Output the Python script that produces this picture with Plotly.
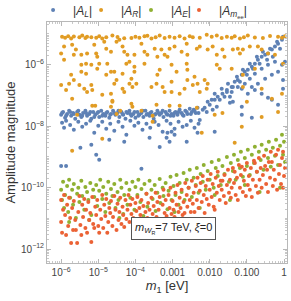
import plotly.graph_objects as go

# ---------------- data ----------------
m1_R = [1.06e-6, 1.28e-6, 1.55e-6, 1.86e-6, 3.1e-6, 3.7e-6, 4.5e-6, 5.0e-6, 8.8e-6, 1.06e-5, 1.28e-5, 1.64e-5, 2.4e-5,
        7.8e-5, 1.0e-4, 1.28e-4, 1.75e-4, 2.7e-4, 3.5e-4, 4.5e-4, 6.1e-4, 8.3e-4, 1.13e-3, 1.55e-3, 2.1e-3, 3.5e-3,
        8.3e-3, 1.55e-2, 2.1e-2, 2.9e-2, 3.9e-2, 4.7e-2, 6.5e-2, 8.3e-2, 0.106, 0.27, 0.69, 0.88, 1.06,
        2.2e-6, 6.5e-6, 3.3e-5, 5.0e-5, 2.1e-4, 2.9e-3, 5.4e-3, 1.13e-2, 0.164, 0.42,
        1.2e-6, 1.0e-6, 1.2e-6, 1.98e-6, 2.5e-6, 2.2e-6, 3.5e-6, 5.0e-6, 3.5e-6, 4.7e-6, 7.8e-6, 8.8e-6, 9.4e-6,
        6.5e-6, 4.7e-6, 3.5e-6, 1.86e-6, 1.64e-6, 1.0e-6, 1.36e-6, 2.2e-6, 3.1e-6, 4.2e-6, 6.5e-6, 6.9e-6, 5.0e-6,
        1.98e-6, 1.45e-5, 1.64e-5, 2.2e-5, 1.75e-5, 1.06e-5, 9.4e-6, 1.64e-5, 2.2e-5, 2.7e-5, 3.1e-5, 2.7e-5,
        2.2e-5, 5.0e-5, 4.5e-5, 1.28e-5, 2.4e-5, 4.5e-5, 5.0e-5, 6.1e-5, 9.4e-5, 3.1e-5, 3.7e-5, 5.7e-5, 6.9e-5,
        9.4e-5, 4.5e-5, 7.8e-5, 6.9e-5, 1.06e-4, 8.3e-5, 9.4e-5, 1.45e-4, 1.75e-4, 2.1e-4, 3.3e-4, 5.0e-4,
        6.1e-4, 3.9e-4, 1.75e-4, 4.5e-4, 3.9e-4, 3.7e-4, 2.7e-4, 5.4e-4, 6.1e-4, 8.3e-4, 1.13e-3, 1.75e-3,
        7.3e-4, 2.4e-3, 2.5e-3, 4.5e-3, 5.4e-3, 8.8e-3, 1.2e-2, 1.55e-2, 2.2e-2, 2.5e-2, 4.2e-2, 5.7e-2, 6.5e-2,
        7.8e-2, 0.12, 0.198, 0.25, 0.37, 0.57, 0.94, 9.4e-4, 2.4e-3, 2.5e-3, 1.28e-3, 3.9e-3, 2.5e-3, 9.4e-4,
        3.5e-3, 4.7e-3, 7.3e-3, 8.8e-3, 1.55e-2, 1.86e-2, 3.9e-2, 7.8e-2, 0.164, 1.55e-3, 9.4e-4, 5.4e-3,
        2.1e-3, 8.3e-3, 0.88, 0.47, 7.8e-2, 0.25,
        1.98e-6, 1.28e-5, 2.7e-6, 6.9e-6, 8.3e-6, 2.4e-5, 2.2e-5, 3.1e-5, 3.9e-5, 7.8e-5, 8.3e-5, 1.45e-4,
        2.9e-4, 2.9e-4, 3.7e-4, 8.3e-4, 1.55e-3, 4.5e-3, 6.1e-3, 1.36e-2, 2.2e-2, 4.7e-2, 7.3e-2, 0.25, 0.69, 0.1]
A_R = [8.1e-6, 7.6e-6, 8.5e-6, 7.1e-6, 7.9e-6, 8.9e-6, 7.4e-6, 8.1e-6, 7.6e-6, 8.5e-6, 7.1e-6, 7.9e-6, 8.9e-6,
       7.4e-6, 8.1e-6, 7.6e-6, 8.5e-6, 7.1e-6, 7.9e-6, 8.9e-6, 7.4e-6, 8.1e-6, 7.6e-6, 8.5e-6, 7.1e-6, 7.9e-6,
       9.5e-6, 8.9e-6, 7.4e-6, 8.1e-6, 7.6e-6, 8.5e-6, 7.1e-6, 7.9e-6, 8.9e-6, 7.4e-6, 8.1e-6, 7.6e-6, 8.5e-6,
       8.3e-6, 7.8e-6, 8.0e-6, 7.3e-6, 8.7e-6, 8.4e-6, 7.5e-6, 8.2e-6, 7.7e-6, 8.6e-6,
       3.9e-6, 2.3e-6, 1.45e-6, 4.5e-6, 3.1e-6, 2.1e-6, 2.1e-6, 2.3e-6, 1.0e-6, 1.07e-6, 4.5e-6, 2.3e-6, 1.83e-6,
       1.0e-6, 5.1e-7, 5.9e-7, 4.7e-7, 2.4e-7, 2.2e-7, 1.5e-7, 3.2e-7, 2.2e-7, 1.65e-7, 2.2e-7, 1.5e-7, 1.3e-7,
       7.8e-8, 5.6e-6, 3.3e-6, 2.65e-6, 1.07e-6, 1.07e-6, 7.4e-7, 4.7e-7, 5.9e-7, 5.9e-7, 3.2e-7, 2.4e-7,
       1.13e-7, 1.3e-7, 1.65e-7, 1.05e-7, 6.7e-8, 3.9e-6, 2.65e-6, 2.1e-6, 2.1e-6, 5.6e-6, 6.5e-6, 1.07e-6, 1.25e-6,
       8.6e-7, 5.1e-7, 3.5e-7, 2.4e-7, 2.4e-7, 1.9e-7, 5.9e-7, 4.8e-6, 2.65e-6, 2.1e-6, 3.3e-6, 3.1e-6,
       2.1e-6, 1.83e-6, 1.07e-6, 6.9e-7, 4.7e-7, 2.4e-7, 1.9e-7, 1.9e-7, 1.3e-7, 3.3e-6, 3.9e-6, 2.65e-6,
       1.83e-6, 4.8e-6, 2.1e-6, 3.3e-6, 3.9e-6, 3.1e-6, 3.9e-6, 2.1e-6, 3.1e-6, 1.83e-6, 3.1e-6, 3.3e-6, 2.3e-6,
       3.1e-6, 3.9e-6, 3.9e-6, 3.1e-6, 2.3e-6, 2.1e-6, 1.07e-6, 1.0e-6, 1.07e-6, 6.9e-7, 5.9e-7, 4.1e-7, 3.2e-7, 2.8e-7,
       2.2e-7, 2.4e-7, 3.2e-7, 2.4e-7, 1.0e-6, 7.4e-7, 7.4e-7, 4.7e-7, 7.4e-7, 1.13e-7, 1.3e-7, 1.3e-7,
       1.65e-7, 1.65e-7, 1.13e-7, 7.8e-8, 1.9e-7, 1.65e-7,
       1.58e-9, 3.9e-9, 2.35e-8, 4.6e-8, 4.6e-8, 6.2e-8, 4.3e-8, 2.5e-8, 3.2e-8, 5.4e-8, 4.3e-8, 3.2e-8,
       2.2e-8, 1.4e-8, 5.0e-8, 4.6e-8, 4.6e-8, 4.0e-8, 6.1e-9, 2.35e-8, 2.7e-8, 2.9e-9, 9.6e-9, 2.0e-8, 2.9e-8, 6.2e-8]

m1_L = [1.0e-6, 1.13e-6, 1.28e-6, 1.45e-6, 1.64e-6, 1.86e-6, 2.1e-6, 2.4e-6, 2.7e-6, 3.1e-6, 3.5e-6, 3.9e-6, 4.5e-6,
        5.0e-6, 5.7e-6, 6.5e-6, 7.3e-6, 8.3e-6, 9.4e-6, 1.06e-5, 1.2e-5, 1.36e-5, 1.55e-5, 1.75e-5, 1.98e-5, 2.2e-5,
        2.5e-5, 2.9e-5, 3.3e-5, 3.7e-5, 4.2e-5, 4.7e-5, 5.4e-5, 6.1e-5, 6.9e-5, 7.8e-5, 8.8e-5, 1.0e-4, 1.13e-4,
        1.28e-4, 1.45e-4, 1.64e-4, 1.86e-4, 2.1e-4, 2.4e-4, 2.7e-4, 3.1e-4, 3.5e-4, 3.9e-4, 4.5e-4, 5.0e-4, 5.7e-4,
        6.5e-4, 7.3e-4, 8.3e-4, 9.4e-4, 1.06e-3, 1.2e-3, 1.36e-3, 1.55e-3, 1.75e-3, 1.98e-3, 2.2e-3, 2.5e-3, 2.9e-3,
        3.3e-3, 3.7e-3, 4.2e-3, 4.7e-3,
        1.06e-6, 1.36e-6, 1.75e-6, 2.2e-6, 2.9e-6, 3.7e-6, 4.7e-6, 6.1e-6, 7.8e-6, 1.0e-5, 1.28e-5, 1.64e-5, 2.1e-5,
        2.7e-5, 3.5e-5, 4.5e-5, 5.7e-5, 7.3e-5, 9.4e-5, 1.2e-4, 1.55e-4, 1.98e-4, 2.5e-4, 3.3e-4, 4.2e-4, 5.4e-4,
        6.9e-4, 8.8e-4, 1.13e-3, 1.45e-3, 1.86e-3, 2.4e-3, 3.1e-3, 3.9e-3, 5.0e-3,
        1.06e-6, 1.36e-6, 1.75e-6, 2.2e-6, 2.9e-6, 3.7e-6, 4.7e-6, 6.1e-6, 7.8e-6, 1.0e-5, 1.28e-5, 1.64e-5, 2.1e-5,
        2.7e-5, 3.5e-5, 4.5e-5, 5.7e-5, 7.3e-5, 9.4e-5, 1.2e-4, 1.55e-4, 1.98e-4, 2.5e-4, 3.3e-4, 4.2e-4, 5.4e-4,
        6.9e-4, 8.8e-4, 1.13e-3, 1.45e-3, 1.86e-3, 2.4e-3, 3.1e-3, 3.9e-3, 5.0e-3,
        1.2e-6, 3.3e-6, 6.5e-6, 8.8e-6, 1.06e-5, 1.0e-6, 1.36e-6, 1.45e-4, 1.98e-5, 5.0e-5, 2.4e-4, 4.5e-4, 7.3e-4,
        9.4e-4, 6.9e-4, 8.3e-4, 1.13e-3, 2.4e-3, 4.7e-3, 1.36e-2,
        5.4e-3, 7.3e-3, 8.8e-3, 1.13e-2, 1.36e-2, 1.64e-2, 1.86e-2, 2.2e-2, 2.5e-2, 2.9e-2, 3.5e-2, 3.5e-2, 4.2e-2,
        3.9e-2, 3.9e-2, 4.7e-2, 5.7e-2, 5.7e-2, 7.3e-2, 7.3e-2, 7.3e-2, 7.3e-2, 8.8e-2, 8.8e-2, 0.106, 0.106, 0.12,
        0.136, 0.136, 0.136, 0.164, 0.164, 0.164, 0.198, 0.198, 0.25, 0.25, 0.25, 0.31, 0.31, 0.37, 0.37, 0.37,
        0.47, 0.47, 0.47, 0.57, 0.57, 0.69, 0.69, 0.69, 0.88, 0.88, 0.94, 1.06, 0.94, 0.94,
        1.36e-2, 2.1e-2, 3.1e-2, 5.4e-2, 7.8e-2, 0.12, 0.186, 0.27, 0.42, 0.65, 0.78, 0.5, 0.35, 0.22, 0.145, 0.1,
        6.5e-2, 4.2e-2, 2.9e-2, 6.5e-3, 8.3e-3, 1.0e-2, 1.2e-2, 1.55e-2]
A_L = [2.35e-8, 2.9e-8, 1.9e-8, 2.5e-8, 3.2e-8, 2.2e-8, 2.7e-8, 1.75e-8, 2.9e-8, 2.35e-8, 2.0e-8, 2.7e-8, 3.2e-8,
       2.2e-8, 2.5e-8, 1.75e-8, 2.9e-8, 2.35e-8, 2.7e-8, 2.0e-8, 3.2e-8, 2.5e-8, 2.2e-8, 2.9e-8, 1.9e-8, 2.5e-8,
       3.2e-8, 2.35e-8, 2.7e-8, 2.0e-8, 2.9e-8, 2.35e-8, 1.75e-8, 2.7e-8, 3.2e-8, 2.2e-8, 2.5e-8, 1.9e-8, 2.9e-8,
       2.35e-8, 2.7e-8, 2.0e-8, 3.2e-8, 2.5e-8, 2.2e-8, 2.9e-8, 1.75e-8, 2.5e-8, 3.2e-8, 2.35e-8, 2.7e-8, 2.0e-8,
       2.9e-8, 2.35e-8, 3.2e-8, 2.5e-8, 2.2e-8, 2.9e-8, 2.35e-8, 3.4e-8, 2.7e-8, 2.2e-8, 3.2e-8, 2.5e-8, 3.7e-8,
       2.9e-8, 3.4e-8, 2.7e-8, 4.0e-8,
       2.7e-8, 2.2e-8, 2.9e-8, 2.5e-8, 3.2e-8, 2.2e-8, 2.7e-8, 2.9e-8, 2.0e-8, 2.9e-8, 2.2e-8, 2.7e-8, 2.35e-8,
       2.7e-8, 3.2e-8, 2.5e-8, 2.9e-8, 2.5e-8, 2.9e-8, 2.2e-8, 3.2e-8, 2.35e-8, 2.7e-8, 2.35e-8, 2.7e-8, 3.2e-8,
       2.5e-8, 2.2e-8, 2.7e-8, 2.9e-8, 2.35e-8, 2.9e-8, 2.5e-8, 3.2e-8, 2.7e-8,
       1.3e-8, 1.5e-8, 1.1e-8, 7.6e-9, 1.4e-8, 9.6e-9, 1.2e-8, 1.5e-8, 6.1e-9, 1.03e-8, 1.4e-8, 8.2e-9, 1.2e-8,
       7.1e-9, 1.4e-8, 9.6e-9, 5.3e-9, 1.5e-8, 1.03e-8, 1.3e-8, 7.6e-9, 1.2e-8, 8.9e-9, 1.4e-8, 1.1e-8, 6.6e-9,
       1.5e-8, 1.2e-8, 8.2e-9, 1.4e-8, 9.6e-9, 1.1e-8, 1.5e-8, 8.9e-9, 1.2e-8,
       8.9e-9, 2.0e-9, 2.5e-9, 1.17e-9, 8.1e-10, 5.1e-10, 5.1e-10, 4.1e-10, 3.6e-9, 3.1e-9, 4.2e-9, 2.1e-9, 6.1e-9,
       6.6e-9, 4.2e-9, 3.1e-9, 5.3e-9, 3.1e-9, 6.1e-9, 6.6e-9,
       1.6e-8, 4.0e-8, 6.2e-8, 7.2e-8, 7.2e-8, 9.1e-8, 7.2e-8, 1.13e-7, 9.1e-8, 1.5e-7, 9.1e-8, 5.8e-8, 6.2e-8,
       1.9e-7, 1.3e-7, 2.8e-7, 3.2e-7, 1.9e-7, 4.7e-7, 1.65e-7, 4.3e-8, 2.35e-8, 5.9e-7, 2.4e-7, 6.9e-7, 1.13e-7, 3.5e-7,
       8.6e-7, 1.9e-7, 1.9e-8, 1.07e-6, 5.1e-7, 1.5e-7, 1.45e-6, 2.4e-7, 1.83e-6, 7.4e-7, 1.13e-7, 2.1e-6, 3.5e-7,
       2.3e-6, 1.0e-6, 8.4e-8, 3.1e-6, 4.7e-7, 7.2e-8, 3.9e-6, 1.25e-6, 4.8e-6, 5.9e-7, 5.0e-8, 6.5e-6, 1.0e-6,
       8.2e-6, 1.25e-6, 3.2e-7, 1.65e-7,
       1.13e-7, 1.65e-7, 2.4e-7, 4.1e-7, 6.9e-7, 1.07e-6, 1.83e-6, 2.65e-6, 3.3e-6, 5.6e-6, 3.3e-6, 1.83e-6, 1.45e-6,
       1.07e-6, 7.4e-7, 4.7e-7, 2.8e-7, 1.9e-7, 1.3e-7, 3.4e-8, 2.9e-8, 5.0e-8, 3.4e-8, 4.3e-8]

m1_E = [1.0e-6, 1.06e-6, 1.13e-6, 1.2e-6, 1.28e-6, 1.45e-6, 1.55e-6, 1.64e-6, 1.75e-6, 1.98e-6, 2.1e-6, 2.2e-6,
        2.5e-6, 2.7e-6, 2.9e-6, 3.1e-6, 3.5e-6, 3.7e-6, 4.2e-6, 4.5e-6, 5.0e-6, 5.4e-6, 6.1e-6, 6.5e-6, 7.3e-6,
        7.8e-6, 8.8e-6, 9.4e-6, 1.06e-5, 1.13e-5, 1.28e-5, 1.36e-5, 1.55e-5, 1.64e-5, 1.86e-5, 1.98e-5, 2.2e-5,
        2.4e-5, 2.7e-5, 2.9e-5, 3.3e-5, 3.5e-5, 3.9e-5, 4.2e-5, 4.7e-5, 5.0e-5, 5.7e-5, 6.1e-5, 6.9e-5, 7.3e-5,
        8.3e-5, 9.4e-5, 1.0e-4, 1.13e-4, 1.2e-4, 1.36e-4, 1.45e-4, 1.64e-4, 1.75e-4, 1.98e-4, 2.1e-4, 2.4e-4,
        2.7e-4, 2.9e-4, 3.3e-4, 3.5e-4, 3.9e-4, 4.5e-4, 4.7e-4, 5.4e-4, 5.7e-4, 6.5e-4, 7.3e-4, 7.8e-4, 8.8e-4,
        9.4e-4, 1.06e-3, 1.2e-3, 1.28e-3, 1.45e-3, 1.55e-3, 1.75e-3, 1.98e-3, 2.1e-3, 2.4e-3, 2.7e-3, 2.9e-3,
        3.3e-3, 3.7e-3, 4.2e-3, 4.5e-3, 5.0e-3, 5.7e-3, 6.5e-3, 6.9e-3, 7.8e-3, 8.8e-3, 1.0e-2, 1.13e-2, 1.28e-2,
        1.45e-2, 1.64e-2, 1.75e-2, 1.98e-2, 2.2e-2, 2.5e-2, 2.9e-2, 3.3e-2, 3.7e-2, 4.2e-2, 4.5e-2, 5.0e-2,
        5.7e-2, 6.5e-2, 6.9e-2, 7.8e-2, 8.8e-2, 0.1, 0.106, 0.12, 0.136, 0.155, 0.164, 0.186, 0.21, 0.235, 0.25,
        0.28, 0.33, 0.37, 0.39, 0.44, 0.5, 0.57, 0.61, 0.69, 0.78, 0.88, 0.94, 1.0, 1.06,
        1.64e-6, 5.7e-6, 3.7e-5, 2.4e-4, 1.13e-3, 5.4e-3, 3.5e-2, 0.22, 0.78, 8.8e-2, 1.36e-2]
A_E = [8.5e-11, 4.0e-11, 1.55e-10, 2.2e-11, 5.8e-11, 1.14e-10, 1.63e-11, 1.8e-10, 4.7e-11, 8.5e-11, 2.8e-11,
       1.33e-10, 1.04e-11, 6.3e-11, 9.9e-11, 3.45e-11, 1.67e-10, 5.4e-11, 1.9e-11, 1.06e-10, 7.3e-11, 4.0e-11,
       1.43e-10, 1.3e-11, 8.5e-11, 5.0e-11, 1.23e-10, 2.56e-11, 7.9e-11, 1.8e-10, 4.3e-11, 1.06e-10, 1.63e-11,
       6.3e-11, 1.55e-10, 3.2e-11, 9.1e-11, 5.4e-11, 1.33e-10, 2.2e-11, 7.3e-11, 4.0e-11, 1.8e-10, 9.9e-11,
       1.4e-11, 5.8e-11, 1.43e-10, 2.8e-11, 8.5e-11, 4.7e-11, 1.55e-10, 1.9e-11, 1.06e-10, 5.8e-11, 1.8e-10,
       3.45e-11, 9.1e-11, 1.21e-11, 1.33e-10, 6.3e-11, 2.4e-11, 1.67e-10, 8.5e-11, 4.3e-11, 1.23e-10, 1.76e-11,
       6.8e-11, 1.93e-10, 3.2e-11, 9.9e-11, 5.4e-11, 1.43e-10, 2.0e-11, 7.9e-11, 2.25e-10, 4.0e-11, 1.14e-10,
       5.8e-11, 2.6e-10, 2.8e-11, 1.43e-10, 7.3e-11, 3.0e-10, 4.0e-11, 1.8e-10, 9.9e-11, 3.8e-10, 5.0e-11,
       2.1e-10, 1.23e-10, 4.4e-10, 6.8e-11, 2.8e-10, 1.55e-10, 5.5e-10, 8.5e-11, 3.5e-10, 1.8e-10, 6.9e-10,
       9.9e-11, 4.4e-10, 2.4e-10, 8.0e-10, 1.23e-10, 5.1e-10, 2.8e-10, 1.0e-9, 1.55e-10, 6.4e-10, 3.5e-10,
       1.17e-9, 1.8e-10, 8.0e-10, 4.4e-10, 1.47e-9, 2.25e-10, 9.3e-10, 5.1e-10, 1.7e-9, 2.6e-10, 1.17e-9,
       6.4e-10, 2.13e-9, 3.3e-10, 1.47e-9, 8.0e-10, 2.5e-9, 3.8e-10, 1.7e-9, 9.3e-10, 3.1e-9, 4.8e-10, 2.0e-9,
       1.09e-9, 3.6e-9, 5.5e-10, 2.3e-9, 5.25e-9, 1.17e-9, 3.1e-9, 6.9e-10,
       7.7e-12, 8.9e-12, 1.04e-11, 8.9e-12, 1.63e-11, 2.2e-11, 4.0e-11, 7.3e-11, 9.9e-11, 1.23e-10, 5.8e-11]

m1_mee = [1.0e-6, 1.0e-6, 1.06e-6, 1.13e-6, 1.2e-6, 1.28e-6, 1.36e-6, 1.45e-6, 1.55e-6, 1.64e-6, 1.75e-6, 1.86e-6,
          1.98e-6, 2.1e-6, 2.2e-6, 2.4e-6, 2.5e-6, 2.7e-6, 2.9e-6, 3.1e-6, 3.3e-6, 3.5e-6, 3.7e-6, 3.9e-6, 4.2e-6,
          4.5e-6, 4.7e-6, 5.0e-6, 5.4e-6, 5.7e-6, 6.1e-6, 6.5e-6, 6.9e-6, 7.3e-6, 7.8e-6, 8.3e-6, 8.8e-6, 9.4e-6,
          1.0e-5, 1.06e-5, 1.13e-5, 1.2e-5, 1.28e-5, 1.36e-5, 1.45e-5, 1.55e-5, 1.64e-5, 1.75e-5, 1.86e-5, 1.98e-5,
          2.1e-5, 2.2e-5, 2.4e-5, 2.5e-5, 2.7e-5, 2.9e-5, 3.1e-5, 3.3e-5, 3.5e-5, 3.7e-5, 3.9e-5, 4.2e-5, 4.5e-5,
          4.7e-5, 5.0e-5, 5.4e-5, 5.7e-5, 6.1e-5, 6.5e-5, 6.9e-5, 7.3e-5, 7.8e-5, 8.3e-5, 8.8e-5, 9.4e-5, 1.0e-4,
          1.06e-4, 1.13e-4, 1.2e-4, 1.28e-4, 1.36e-4, 1.45e-4, 1.55e-4, 1.64e-4, 1.75e-4, 1.86e-4, 1.98e-4, 2.1e-4,
          2.2e-4, 2.4e-4, 2.5e-4, 2.7e-4, 2.9e-4, 3.1e-4, 3.3e-4, 3.5e-4, 3.7e-4, 3.9e-4, 4.2e-4, 4.5e-4, 4.7e-4,
          5.0e-4, 5.4e-4, 5.7e-4, 6.1e-4, 6.5e-4, 6.9e-4, 7.3e-4, 7.8e-4, 8.3e-4, 8.8e-4, 9.4e-4, 1.0e-3, 1.06e-3,
          1.13e-3, 1.2e-3, 1.28e-3, 1.36e-3, 1.45e-3, 1.55e-3, 1.64e-3, 1.75e-3, 1.86e-3, 1.98e-3, 2.1e-3, 2.2e-3,
          2.4e-3, 2.5e-3, 2.7e-3, 2.9e-3, 3.1e-3, 3.3e-3, 3.5e-3, 3.7e-3, 3.9e-3, 4.2e-3, 4.5e-3, 4.7e-3, 5.0e-3,
          5.4e-3, 5.7e-3, 6.1e-3, 6.5e-3, 6.9e-3, 7.3e-3, 7.8e-3, 8.3e-3, 8.8e-3, 9.4e-3, 1.0e-2, 1.06e-2, 1.13e-2,
          1.2e-2, 1.28e-2, 1.36e-2, 1.45e-2, 1.55e-2, 1.64e-2, 1.75e-2, 1.86e-2, 1.98e-2, 2.1e-2, 2.2e-2, 2.4e-2,
          2.5e-2, 2.7e-2, 2.9e-2, 3.1e-2, 3.3e-2, 3.5e-2, 3.7e-2, 3.9e-2, 4.2e-2, 4.5e-2, 4.7e-2, 5.0e-2, 5.4e-2,
          5.7e-2, 6.1e-2, 6.5e-2, 6.9e-2, 7.3e-2, 7.8e-2, 8.3e-2, 8.8e-2, 9.4e-2, 0.1, 0.106, 0.113, 0.12, 0.128,
          0.136, 0.145, 0.155, 0.164, 0.175, 0.186, 0.198, 0.21, 0.22, 0.235, 0.25, 0.27, 0.29, 0.31, 0.33, 0.35,
          0.37, 0.39, 0.42, 0.44, 0.47, 0.5, 0.53, 0.57, 0.61, 0.65, 0.69, 0.73, 0.78, 0.83, 0.88, 0.94, 1.0, 1.06,
          0.94]
A_mee = [4.0e-11, 7.7e-12, 3.4e-12, 1.9e-11, 5.8e-11, 1.3e-11, 2.9e-12, 2.8e-11, 5.7e-12, 4.7e-11, 1.04e-11,
         1.6e-12, 2.2e-11, 4.2e-12, 3.7e-11, 8.9e-12, 4.2e-12, 1.6e-12, 1.63e-11, 5.4e-11, 6.1e-12, 2.9e-12,
         2.8e-11, 1.12e-11, 4.3e-11, 4.9e-12, 1.9e-11, 3.4e-12, 3.45e-11, 8.9e-12, 1.51e-11, 1.72e-12, 5.0e-11,
         6.6e-12, 4.9e-12, 2.4e-11, 1.3e-11, 4.0e-11, 5.7e-12, 3.4e-12, 1.9e-11, 9.6e-12, 5.8e-11, 4.9e-12,
         2.8e-11, 1.21e-11, 4.3e-11, 3.4e-12, 7.7e-12, 2.2e-11, 1.51e-11, 3.7e-11, 5.7e-12, 1.12e-11, 5.4e-11,
         1.9e-11, 4.2e-12, 3.0e-11, 8.9e-12, 1.63e-11, 4.7e-11, 6.6e-12, 2.4e-11, 1.3e-11, 5.3e-12, 4.0e-11,
         9.6e-12, 1.9e-11, 5.8e-11, 7.7e-12, 2.8e-11, 1.4e-11, 4.3e-11, 1.04e-11, 6.1e-12, 3.2e-11, 1.76e-11,
         5.0e-11, 8.3e-12, 2.2e-11, 1.3e-11, 4.0e-11, 6.6e-12, 2.56e-11, 4.9e-12, 1.63e-11, 6.3e-11, 1.04e-11,
         3.2e-11, 1.9e-11, 7.7e-12, 4.7e-11, 1.4e-11, 2.56e-11, 7.7e-12, 6.8e-11, 1.12e-11, 3.45e-11, 1.9e-11,
         5.0e-11, 9.6e-12, 7.1e-12, 2.8e-11, 8.5e-11, 1.51e-11, 4.0e-11, 1.21e-11, 7.7e-12, 5.8e-11, 2.2e-11,
         9.9e-11, 1.4e-11, 3.7e-11, 1.9e-11, 1.12e-11, 6.8e-11, 2.8e-11, 1.23e-10, 1.63e-11, 4.7e-11, 2.2e-11,
         8.5e-11, 1.3e-11, 3.45e-11, 1.51e-11, 1.43e-10, 5.8e-11, 2.4e-11, 9.9e-11, 4.0e-11, 1.63e-11, 1.67e-10,
         3.0e-11, 6.8e-11, 1.63e-11, 1.14e-10, 4.0e-11, 2.1e-10, 2.2e-11, 7.9e-11, 1.43e-10, 3.45e-11, 2.4e-10,
         5.8e-11, 1.51e-11, 1.14e-10, 4.3e-11, 1.8e-10, 2.8e-11, 8.5e-11, 2.8e-10, 5.0e-11, 1.33e-10, 2.4e-11,
         1.9e-11, 2.1e-10, 6.8e-11, 3.3e-10, 1.14e-10, 4.0e-11, 1.67e-10, 8.5e-11, 1.67e-10, 5.4e-11, 2.6e-10,
         3.2e-11, 1.23e-10, 3.8e-10, 6.8e-11, 1.8e-10, 4.7e-11, 9.9e-11, 4.4e-10, 1.43e-10, 3.3e-10, 5.8e-11,
         2.1e-10, 4.0e-11, 5.5e-10, 9.9e-11, 2.6e-10, 4.8e-10, 7.3e-11, 1.67e-10, 3.8e-10, 5.4e-11, 6.4e-10,
         1.23e-10, 2.4e-10, 8.5e-11, 4.4e-10, 5.0e-11, 1.8e-10, 7.5e-10, 6.4e-10, 1.14e-10, 3.3e-10, 6.8e-11,
         9.3e-10, 1.8e-10, 4.4e-10, 9.9e-11, 2.6e-10, 1.09e-9, 5.1e-10, 1.33e-10, 3.8e-10, 7.3e-11, 6.9e-10,
         2.1e-10, 1.47e-9, 6.9e-10, 1.14e-10, 3.8e-10, 1.8e-10, 1.17e-9, 8.5e-11, 1.7e-9, 2.8e-10, 5.5e-10,
         1.33e-10, 9.3e-10, 1.47e-9, 2.4e-10, 4.4e-10, 9.9e-11]

series_names = ["|<i>A</i><sub><i>L</i></sub>|", "|<i>A</i><sub><i>R</i></sub>|",
                "|<i>A</i><sub><i>E</i></sub>|", "|<i>A</i><sub><i>m</i><sub>ee</sub></sub>|"]
colors = ["#5E81B5", "#E19C24", "#8FB032", "#EB6235"]

x_tickvals = [1e-6, 1e-5, 1e-4, 1e-3, 1e-2, 1e-1, 1]
x_ticktext = ["10<sup>−6</sup>", "10<sup>−5</sup>", "10<sup>−4</sup>", "0.001", "0.010", "0.100", "1"]
y_tickvals = [1e-12, 1e-10, 1e-8, 1e-6]
y_ticktext = ["10<sup>−12</sup>", "10<sup>−10</sup>", "10<sup>−8</sup>", "10<sup>−6</sup>"]

# ---------------- figure ----------------
font_family = "Liberation Sans, Arial, sans-serif"
fig = go.Figure()
legend_ids = ["legend", "legend2", "legend3", "legend4"]
legend_x = [-0.058, 0.142, 0.35, 0.55]
for i, (xs, ys) in enumerate([(m1_L, A_L), (m1_R, A_R), (m1_E, A_E), (m1_mee, A_mee)]):
    fig.add_trace(go.Scatter(x=xs, y=ys, mode="markers", name=series_names[i], legend=legend_ids[i],
                             showlegend=True,
                             marker=dict(color=colors[i], size=4, line=dict(width=0))))

axis_common = dict(type="log", showgrid=False, zeroline=False, showline=True, linecolor="#b8b8b8",
                   linewidth=1, mirror="allticks", ticks="inside", ticklen=4, tickcolor="#b8b8b8",
                   automargin=False,
                   tickfont=dict(size=10, color="#444444", family=font_family),
                   minor=dict(ticks="inside", ticklen=2, tickcolor="#c8c8c8", dtick="D1", showgrid=False))

fig.update_xaxes(**axis_common, range=[-6.38, 0.08], tickmode="array", tickvals=x_tickvals, ticktext=x_ticktext,
                 title=dict(text="<i>m</i><sub>1</sub> [eV]", font=dict(size=13, color="#333333", family=font_family),
                            standoff=0))
fig.update_yaxes(**axis_common, range=[-12.45, -4.61], tickmode="array", tickvals=y_tickvals, ticktext=y_ticktext,
                 title=dict(text="Amplitude magnitude", font=dict(size=13, color="#333333", family=font_family),
                            standoff=2))

fig.add_annotation(xref="paper", yref="paper", x=0.706, y=0.095,
                   text="<i>m</i><sub><i>W</i><sub>R</sub></sub>=7 TeV, <i>ξ</i>=0",
                   showarrow=False, font=dict(size=11, color="#222222", family=font_family),
                   bordercolor="#555555", borderwidth=1, borderpad=3, bgcolor="white")

legend_common = dict(orientation="h", y=0.99, yanchor="bottom", xanchor="left",
                     font=dict(size=12, color="#333333", family=font_family),
                     bgcolor="rgba(0,0,0,0)", borderwidth=0, itemwidth=30, visible=True)
layout_legends = {lid: dict(legend_common, x=lx) for lid, lx in zip(legend_ids, legend_x)}

fig.update_layout(width=291, height=301, margin=dict(l=47, r=4, t=22, b=38, autoexpand=False),
                  paper_bgcolor="white", plot_bgcolor="white", showlegend=True,
                  font=dict(family=font_family), **layout_legends)

fig.write_html("out.html", config={"displayModeBar": False},
               post_script="document.body.style.margin='0px';")
